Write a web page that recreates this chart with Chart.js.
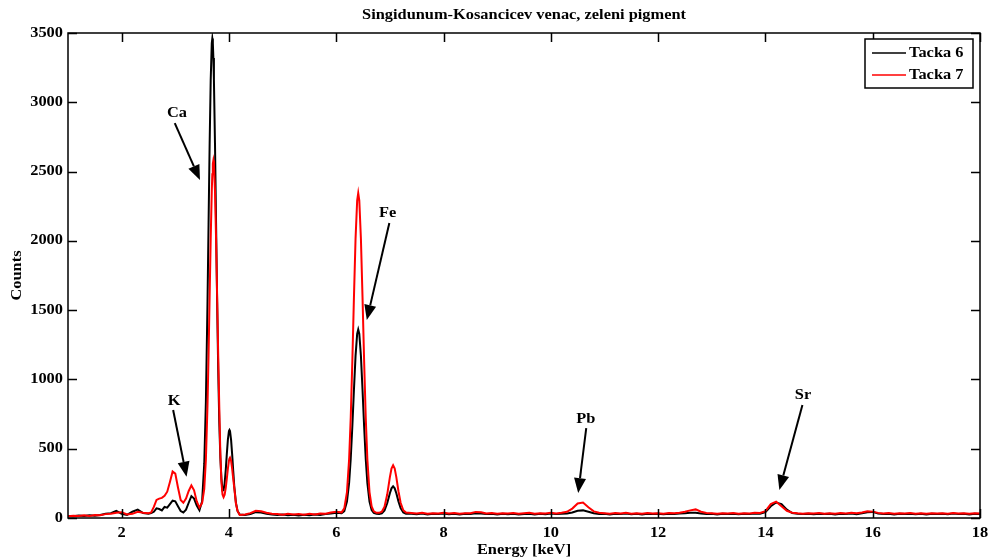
<!DOCTYPE html>
<html>
<head>
<meta charset="utf-8">
<title>Singidunum-Kosancicev venac, zeleni pigment</title>
<script src="https://cdn.jsdelivr.net/npm/chart.js@4.4.0/dist/chart.umd.min.js"></script>
<style>
  html, body { margin: 0; padding: 0; background: #fff; }
  #wrap { width: 990px; height: 560px; position: relative; }
</style>
</head>
<body>
<div id="wrap"><canvas id="spectrum"></canvas></div>
<script>
// ── DATA ────────────────────────────────────────
// channel energies (keV), denser around the Ca and Fe lines
const energy = [
  1.0, 1.1, 1.2, 1.3, 1.4, 1.5, 1.6, 1.7, 1.8, 1.9,
  2.0, 2.1, 2.2, 2.3, 2.4, 2.5, 2.55, 2.6, 2.65, 2.7,
  2.75, 2.8, 2.85, 2.9, 2.95, 3.0, 3.05, 3.1, 3.15, 3.2,
  3.25, 3.3, 3.35, 3.4, 3.45, 3.5, 3.54, 3.57, 3.6, 3.62,
  3.64, 3.66, 3.68, 3.69, 3.7, 3.71, 3.72, 3.74, 3.76, 3.78,
  3.8, 3.82, 3.84, 3.86, 3.88, 3.9, 3.92, 3.94, 3.96, 3.98,
  4.0, 4.01, 4.02, 4.04, 4.06, 4.08, 4.1, 4.13, 4.16, 4.2,
  4.3, 4.4, 4.5, 4.6, 4.7, 4.8, 4.9, 5.0, 5.1, 5.2,
  5.3, 5.4, 5.5, 5.6, 5.7, 5.8, 5.9, 6.0, 6.1, 6.15,
  6.2, 6.24, 6.27, 6.3, 6.33, 6.36, 6.39, 6.41, 6.43, 6.46,
  6.49, 6.52, 6.55, 6.58, 6.62, 6.66, 6.7, 6.75, 6.8, 6.85,
  6.9, 6.95, 7.0, 7.03, 7.06, 7.09, 7.12, 7.16, 7.2, 7.25,
  7.3, 7.4, 7.5, 7.6, 7.7, 7.8, 7.9, 8.0, 8.1, 8.2,
  8.3, 8.4, 8.5, 8.6, 8.7, 8.8, 8.9, 9.0, 9.1, 9.2,
  9.3, 9.4, 9.5, 9.6, 9.7, 9.8, 9.9, 10.0, 10.1, 10.2,
  10.3, 10.4, 10.5, 10.6, 10.7, 10.8, 10.9, 11.0, 11.1, 11.2,
  11.3, 11.4, 11.5, 11.6, 11.7, 11.8, 11.9, 12.0, 12.1, 12.2,
  12.3, 12.4, 12.5, 12.6, 12.7, 12.8, 12.9, 13.0, 13.1, 13.2,
  13.3, 13.4, 13.5, 13.6, 13.7, 13.8, 13.9, 14.0, 14.1, 14.2,
  14.3, 14.4, 14.5, 14.6, 14.7, 14.8, 14.9, 15.0, 15.1, 15.2,
  15.3, 15.4, 15.5, 15.6, 15.7, 15.8, 15.9, 16.0, 16.1, 16.2,
  16.3, 16.4, 16.5, 16.6, 16.7, 16.8, 16.9, 17.0, 17.1, 17.2,
  17.3, 17.4, 17.5, 17.6, 17.7, 17.8, 17.9, 18.0
];

const tacka6 = [
  15, 12, 18, 14, 20, 16, 22, 30, 35, 52,
  30, 22, 45, 60, 35, 30, 35, 45, 70, 65,
  55, 80, 75, 100, 125, 120, 85, 50, 40, 60,
  110, 158, 140, 90, 56, 120, 394, 834, 1544, 2120,
  2693, 3160, 3426, 3460, 3426, 3320, 3160, 2700, 2130, 1560,
  1070, 690, 435, 284, 198, 200, 252, 344, 459, 564,
  627, 635, 627, 564, 459, 339, 225, 111, 51, 25,
  22, 28, 42, 40, 30, 25, 22, 26, 20, 24,
  18, 23, 20, 25, 22, 28, 32, 38, 34, 50,
  118, 253, 426, 660, 926, 1170, 1328, 1360, 1328, 1170,
  926, 660, 426, 253, 118, 58, 37, 31, 29, 34,
  55, 106, 179, 214, 228, 214, 179, 120, 71, 40,
  30, 30, 27, 32, 26, 30, 28, 33, 27, 31,
  26, 30, 29, 35, 33, 28, 30, 26, 31, 27,
  30, 25, 29, 31, 26, 30, 27, 32, 28, 30,
  33, 40, 52, 55, 45, 34, 29, 31, 26, 30,
  28, 32, 27, 30, 26, 31, 28, 30, 27, 31,
  29, 33, 34, 38, 37, 32, 29, 31, 26, 30,
  28, 31, 27, 30, 28, 32, 30, 42, 85, 112,
  100, 60, 36, 31, 28, 30, 27, 31, 28, 30,
  26, 31, 29, 32, 28, 34, 42, 44, 33, 29,
  31, 26, 30, 28, 31, 27, 30, 26, 31, 28,
  30, 27, 32, 28, 30, 26, 31, 29
];

const tacka7 = [
  12, 16, 14, 20, 15, 22, 20, 28, 30, 38,
  42, 25, 30, 45, 38, 35, 40, 80, 130, 140,
  145, 160, 190, 260, 335, 320, 220, 130, 110, 140,
  195, 235, 200, 120, 75, 108, 210, 418, 808, 1175,
  1598, 2018, 2360, 2480, 2555, 2580, 2555, 2360, 2018, 1598,
  1175, 800, 460, 260, 170, 150, 168, 216, 283, 355,
  413, 428, 435, 413, 355, 283, 216, 104, 51, 22,
  25, 35, 52, 48, 38, 30, 28, 24, 30, 26,
  28, 24, 30, 26, 32, 30, 40, 45, 41, 70,
  187, 423, 723, 1130, 1592, 2015, 2290, 2345, 2290, 2015,
  1592, 1130, 723, 423, 187, 84, 48, 37, 37, 46,
  82, 169, 295, 357, 380, 357, 295, 193, 110, 56,
  39, 36, 32, 38, 31, 35, 33, 38, 32, 36,
  31, 35, 34, 44, 42, 33, 36, 30, 35, 32,
  36, 30, 34, 37, 31, 35, 32, 38, 33, 38,
  45, 68, 105, 112, 78, 48, 38, 35, 31, 36,
  33, 37, 31, 35, 30, 36, 33, 35, 31, 36,
  34, 38, 45, 55, 62, 45, 36, 34, 31, 35,
  32, 36, 31, 35, 33, 37, 36, 50, 100, 118,
  85, 52, 38, 34, 31, 35, 32, 36, 31, 35,
  30, 36, 33, 37, 34, 40, 48, 46, 37, 33,
  36, 30, 35, 32, 36, 31, 34, 30, 35, 32,
  35, 31, 36, 33, 34, 30, 35, 33
];

const xTicks = [2, 4, 6, 8, 10, 12, 14, 16, 18];
const yTicks = [0, 500, 1000, 1500, 2000, 2500, 3000, 3500];

// element lines: label position, arrow tail and arrow tip, all in [keV, counts]
const peakNames = ['Ca', 'K', 'Fe', 'Pb', 'Sr'];
const peakLabel = [[3.03, 2922], [2.98, 844], [6.96, 2201], [10.65, 714], [14.70, 888]];
const peakTail  = [[2.99, 2850], [2.96, 779], [6.99, 2129], [10.66, 649], [14.69, 815]];
const peakTip   = [[3.46, 2439], [3.21, 298], [6.57, 1429], [10.51, 180], [14.26, 202]];

if (tacka6.length !== energy.length || tacka7.length !== energy.length) {
  throw new Error('series length mismatch: ' + energy.length + '/' + tacka6.length + '/' + tacka7.length);
}

// ── STYLE ───────────────────────────────────────
const FONT = "bold 14px 'Liberation Serif', 'Times New Roman', serif";
const SX = 1.17;   // glyphs are a bit wide in this figure
const TICK = 9;

function wideText(ctx, s, x, y, align) {
  ctx.save();
  ctx.translate(x, y);
  ctx.scale(SX, 1);
  ctx.textAlign = align;
  ctx.textBaseline = 'middle';
  ctx.fillText(s, 0, 0);
  ctx.restore();
}

function arrow(ctx, x0, y0, x1, y1) {
  const ang = Math.atan2(y1 - y0, x1 - x0);
  const hl = 15, hw = 6;
  const bx = x1 - hl * Math.cos(ang), by = y1 - hl * Math.sin(ang);
  ctx.beginPath();
  ctx.moveTo(x0, y0);
  ctx.lineTo(bx, by);
  ctx.stroke();
  ctx.beginPath();
  ctx.moveTo(x1, y1);
  ctx.lineTo(bx + hw * Math.sin(ang), by - hw * Math.cos(ang));
  ctx.lineTo(bx - hw * Math.sin(ang), by + hw * Math.cos(ang));
  ctx.closePath();
  ctx.fill();
}

// ── FRAME, TICKS, LABELS, LEGEND ────────────────
const framePlugin = {
  id: 'frame',
  afterDatasetsDraw(chart) {
    const { ctx, chartArea: a, scales: { x, y } } = chart;
    ctx.save();
    ctx.strokeStyle = '#000';
    ctx.fillStyle = '#000';
    ctx.lineWidth = 1.5;
    ctx.strokeRect(a.left, a.top, a.right - a.left, a.bottom - a.top);

    ctx.beginPath();
    xTicks.forEach(v => {
      const px = Math.round(x.getPixelForValue(v)) + 0.5;
      ctx.moveTo(px, a.bottom); ctx.lineTo(px, a.bottom - TICK);
      ctx.moveTo(px, a.top);    ctx.lineTo(px, a.top + TICK);
    });
    yTicks.forEach(v => {
      const py = Math.round(y.getPixelForValue(v)) + 0.5;
      ctx.moveTo(a.left, py);  ctx.lineTo(a.left + TICK, py);
      ctx.moveTo(a.right, py); ctx.lineTo(a.right - TICK, py);
    });
    ctx.stroke();

    ctx.font = FONT;
    xTicks.forEach(v => wideText(ctx, String(v), x.getPixelForValue(v), a.bottom + 15, 'center'));
    yTicks.forEach(v => wideText(ctx, String(v), a.left - 5, y.getPixelForValue(v), 'right'));

    // titles
    const cx = (a.left + a.right) / 2;
    wideText(ctx, 'Singidunum-Kosancicev venac, zeleni pigment', cx, 15, 'center');
    wideText(ctx, 'Energy [keV]', cx, a.bottom + 32, 'center');
    ctx.save();
    ctx.translate(17, (a.top + a.bottom) / 2);
    ctx.rotate(-Math.PI / 2);
    wideText(ctx, 'Counts', 0, 0, 'center');
    ctx.restore();

    // element annotations
    ctx.lineWidth = 2;
    peakNames.forEach((name, i) => {
      wideText(ctx, name, x.getPixelForValue(peakLabel[i][0]), y.getPixelForValue(peakLabel[i][1]), 'center');
      arrow(ctx,
        x.getPixelForValue(peakTail[i][0]), y.getPixelForValue(peakTail[i][1]),
        x.getPixelForValue(peakTip[i][0]),  y.getPixelForValue(peakTip[i][1]));
    });

    // legend box, top right inside the axes
    const lw = 108, lh = 49;
    const lx = a.right - 7 - lw, ly = a.top + 6;
    ctx.fillStyle = '#fff';
    ctx.fillRect(lx, ly, lw, lh);
    ctx.lineWidth = 1.5;
    ctx.strokeRect(lx, ly, lw, lh);
    chart.data.datasets.forEach((ds, i) => {
      const ry = ly + 14 + i * 22;
      ctx.strokeStyle = ds.borderColor;
      ctx.beginPath();
      ctx.moveTo(lx + 7, ry); ctx.lineTo(lx + 41, ry);
      ctx.stroke();
      ctx.fillStyle = '#000';
      wideText(ctx, ds.label, lx + 44, ry, 'left');
    });
    ctx.restore();
  }
};

// ── CHART ───────────────────────────────────────
new Chart(document.getElementById('spectrum'), {
  type: 'line',
  data: {
    datasets: [
      {
        label: 'Tacka 6',
        data: energy.map((e, i) => ({ x: e, y: tacka6[i] })),
        borderColor: '#000000',
        borderWidth: 2,
        pointRadius: 0,
        tension: 0,
        order: 1
      },
      {
        label: 'Tacka 7',
        data: energy.map((e, i) => ({ x: e, y: tacka7[i] })),
        borderColor: '#ff0000',
        borderWidth: 2,
        pointRadius: 0,
        tension: 0,
        order: 0
      }
    ]
  },
  options: {
    responsive: true,
    maintainAspectRatio: false,
    animation: false,
    layout: { padding: { top: 33, right: 10, left: 0, bottom: 0 } },
    plugins: { legend: { display: false }, tooltip: { enabled: false }, title: { display: false } },
    scales: {
      x: {
        type: 'linear', min: 1, max: 18,
        grid: { display: false, drawTicks: false },
        border: { display: false },
        ticks: { display: false },
        afterFit: s => { s.height = 42; }
      },
      y: {
        min: 0, max: 3500,
        grid: { display: false, drawTicks: false },
        border: { display: false },
        ticks: { display: false },
        afterFit: s => { s.width = 68; }
      }
    }
  },
  plugins: [framePlugin]
});
</script>
</body>
</html>
